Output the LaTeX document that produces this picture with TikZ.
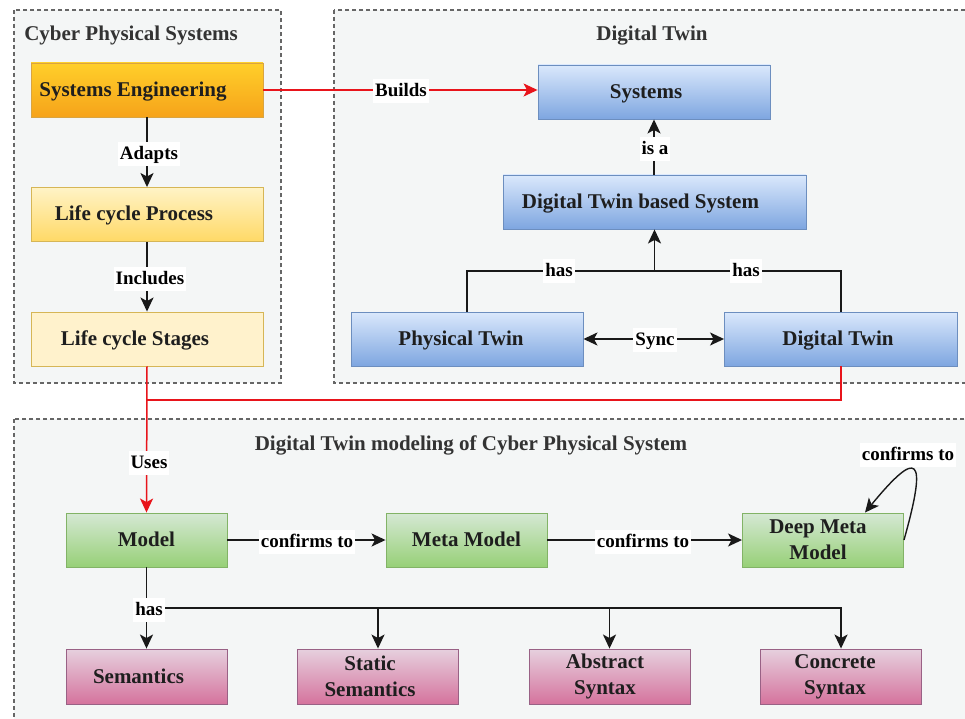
\documentclass[tikz,border=0pt]{standalone}
\usepackage{fontspec}
\setmainfont{Liberation Serif}
\usetikzlibrary{arrows.meta}
\definecolor{contfill}{HTML}{F4F6F6}
\definecolor{contline}{HTML}{666666}
\definecolor{titlegray}{HTML}{333333}
\definecolor{txt}{HTML}{1E1E1E}
\definecolor{redline}{HTML}{E8141B}
\definecolor{seTop}{HTML}{FFCF2A}
\definecolor{seBot}{HTML}{F6A31A}
\definecolor{seLine}{HTML}{D9A441}
\definecolor{lcpTop}{HTML}{FFF3C6}
\definecolor{lcpBot}{HTML}{FFD966}
\definecolor{yLine}{HTML}{D6B656}
\definecolor{lcsFill}{HTML}{FFF2CC}
\definecolor{bTop}{HTML}{DAE8FC}
\definecolor{bBot}{HTML}{7EA6E0}
\definecolor{bLine}{HTML}{6C8EBF}
\definecolor{gTop}{HTML}{D5E8D4}
\definecolor{gBot}{HTML}{97D077}
\definecolor{gLine}{HTML}{82B366}
\definecolor{pTop}{HTML}{E6D0DE}
\definecolor{pBot}{HTML}{D5739D}
\definecolor{pLine}{HTML}{996185}
\begin{document}
\begin{tikzpicture}[x=1pt,y=-1pt,
  container/.style={draw=contline, fill=contfill, line width=1.1pt, dash pattern=on 4pt off 3pt},
  ctitle/.style={text=titlegray, font=\fontsize{21}{24}\selectfont\bfseries, inner sep=0pt, anchor=base},
  box/.style={inner sep=0pt, minimum height=54pt, minimum width=232pt, text=txt, font=\fontsize{21}{26}\selectfont\bfseries, align=center, line width=0.9pt},
  oneline/.style={text height=13pt, text depth=0pt},
  sebox/.style={box, oneline, draw=seLine, top color=seTop, bottom color=seBot},
  lcpbox/.style={box, oneline, draw=yLine, top color=lcpTop, bottom color=lcpBot},
  lcsbox/.style={box, oneline, draw=yLine, fill=lcsFill},
  bluebox/.style={box, oneline, draw=bLine, top color=bTop, bottom color=bBot},
  greenbox/.style={box, draw=gLine, top color=gTop, bottom color=gBot, minimum width=161pt},
  pinkbox/.style={box, draw=pLine, top color=pTop, bottom color=pBot, minimum width=161pt, minimum height=55pt},
  tip/.style={-{Stealth[length=14pt,width=13pt,inset=3.5pt]}},
  conn/.style={draw=black!90, line width=1.8pt},
  arr/.style={conn, tip},
  rconn/.style={draw=redline, line width=1.5pt},
  rarr/.style={rconn, tip},
  dbl/.style={conn, {Stealth[length=14pt,width=13pt,inset=3.5pt]}-{Stealth[length=14pt,width=13pt,inset=3.5pt]}},
  lbl/.style={fill=white, inner xsep=2pt, inner ysep=3.5pt, text height=14pt, text depth=3pt, text=black, font=\fontsize{19}{22}\selectfont\bfseries}
]
\clip (0,0) rectangle (965,719);
\fill[white] (0,0) rectangle (965,719);

% containers
\draw[container] (14,10) rectangle (281,383);
\draw[container] (334,10) rectangle (980,383);
\draw[container] (14,419) rectangle (980,740);
\node[ctitle] (tcps) at (131,41) {Cyber Physical Systems};
\node[ctitle] (tdt) at (652,41) {Digital Twin};
\node[ctitle] (tdtm) at (471,450) {Digital Twin modeling of Cyber Physical System};

% CPS nodes
\node[sebox] (se) at (147,90) {Systems Engineering\hspace*{28pt}};
\node[lcpbox] (lcp) at (147,214.5) {Life cycle Process\hspace*{26pt}};
\node[lcsbox] (lcs) at (147,339) {Life cycle Stages\hspace*{24pt}};

% Digital Twin nodes
\node[bluebox] (sys) at (654,92) {Systems\hspace*{16pt}};
\node[bluebox, minimum width=303pt] (dtbs) at (654.5,202) {Digital Twin based System\hspace*{28pt}};
\node[bluebox] (pt) at (467,339) {Physical Twin\hspace*{12pt}};
\node[bluebox, minimum width=233pt] (dtw) at (841,339) {Digital Twin\hspace*{6pt}};

% modeling nodes
\node[greenbox, oneline] (model) at (146.5,540) {Model};
\node[greenbox, oneline] (meta) at (466.5,540) {Meta Model};
\node[greenbox] (dmm) at (823,540) {Deep Meta\hspace*{10pt}\\Model\hspace*{10pt}};
\node[pinkbox, oneline] (sem) at (146.5,676.5) {Semantics\hspace*{16pt}};
\node[pinkbox] (ssem) at (378,676.5) {Static\hspace*{16pt}\\Semantics\hspace*{16pt}};
\node[pinkbox] (asyn) at (609.5,676.5) {Abstract\hspace*{9pt}\\Syntax\hspace*{9pt}};
\node[pinkbox] (csyn) at (841,676.5) {Concrete\hspace*{12pt}\\Syntax\hspace*{12pt}};

% helper coordinates
\coordinate (jred) at (147,400);
\coordinate (kdt) at (654.5,271);
\coordinate (hm) at (146.5,608);

% CPS connectors
\draw[arr] (se) -- (lcp);
\draw[arr] (lcp) -- (lcs);
\draw[rarr] (se.east) -- (se.east -| sys.west);

% Digital Twin connectors
\draw[arr] (dtbs.north -| sys.south) -- (sys.south);
\draw[conn] (pt.north) |- (kdt);
\draw[conn] (dtw.north) |- (kdt);
\draw[arr] (kdt) -- (dtbs.south);
\draw[dbl] (pt.east) -- (dtw.west);

% red Uses
\draw[rconn] (dtw.south) |- (jred);
\draw[rarr] (lcs.south) -- (model.north);

% confirms to
\draw[arr] (model.east) -- (meta.west);
\draw[arr] (meta.east) -- (dmm.west);
\draw[conn, line width=1.4pt, tip] (dmm.east) .. controls (928,455) and (918,448) .. ([xshift=42pt]dmm.north);

% has tree
\draw[arr] (model.south) -- (sem.north);
\draw[arr] (hm) -| (ssem.north);
\draw[arr] (hm) -| (asyn.north);
\draw[arr] (hm) -| (csyn.north);

% labels
\node[lbl] (lAdapts) at (149,154) {Adapts};
\node[lbl] (lIncludes) at (150,279) {Includes};
\node[lbl] (lBuilds) at (401,91) {Builds};
\node[lbl] (lIsa) at (655,149) {is a};
\node[lbl] (lHas1) at (559,271) {has};
\node[lbl] (lHas2) at (746,271) {has};
\node[lbl] (lSync) at (655,340) {Sync};
\node[lbl] (lUses) at (149,463) {Uses};
\node[lbl] (lConf1) at (307,542) {confirms to};
\node[lbl] (lConf2) at (643,542) {confirms to};
\node[lbl] (lConf3) at (908,455) {confirms to};
\node[lbl] (lHas3) at (149,610) {has};
\end{tikzpicture}
\end{document}
